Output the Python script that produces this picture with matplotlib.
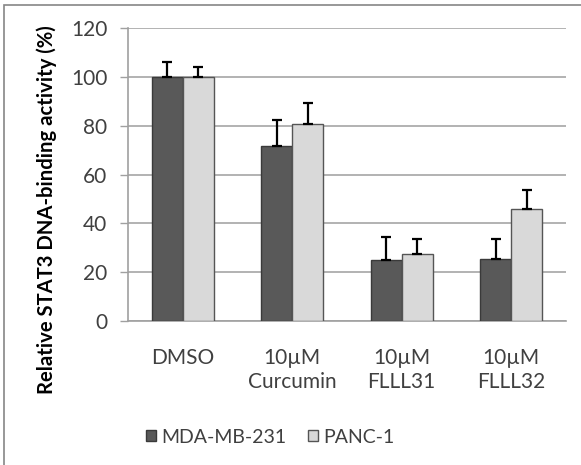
import matplotlib
matplotlib.use("Agg")
import matplotlib.pyplot as plt
import numpy as np
from matplotlib.patches import Rectangle

categories = ["DMSO", "10µM\nCurcumin", "10µM\nFLLL31", "10µM\nFLLL32"]
series_names = ["MDA-MB-231", "PANC-1"]
mda_values = [100, 71.7, 25, 25.4]
mda_errors = [6.2, 10.6, 9.5, 8.2]
panc_values = [100, 80.6, 27.5, 46]
panc_errors = [4.2, 8.9, 6.2, 7.5]
y_ticks = [0, 20, 40, 60, 80, 100, 120]

plt.rcParams['font.family'] = ['Lato', 'DejaVu Sans']

fig = plt.figure(figsize=(5.81, 4.65), dpi=100)
fig.patches.append(Rectangle((4/581, -0.1), 2.0, 1.1 - 5/465, transform=fig.transFigure,
                             fill=False, edgecolor='#868686', linewidth=1.2))
ax = fig.add_axes([0.2208, 0.3103, 0.7529, 0.6288])

x = np.arange(len(categories))
w = 0.283
dark = '#595959'
light = '#d9d9d9'
ax.bar(x - w/2, mda_values, w, color=dark, edgecolor='#3a3a3a', linewidth=1.0, zorder=3, label=series_names[0])
ax.bar(x + w/2, panc_values, w, color=light, edgecolor='#555555', linewidth=1.0, zorder=3, label=series_names[1])
ax.errorbar(x - w/2, mda_values, yerr=[np.zeros(4), mda_errors], fmt='none', ecolor='black',
            elinewidth=1.6, capsize=3.5, capthick=1.6, zorder=4)
ax.errorbar(x + w/2, panc_values, yerr=[np.zeros(4), panc_errors], fmt='none', ecolor='black',
            elinewidth=1.6, capsize=3.5, capthick=1.6, zorder=4)

fs = 15
ax.set_xlim(-0.5, 3.5)
ax.set_ylim(0, 120)
ax.set_yticks(y_ticks)
ax.set_yticklabels([str(t) for t in y_ticks], fontsize=fs, color='#404040')
ax.set_xticks(x)
ax.set_xticklabels(categories, fontsize=fs, color='#404040', linespacing=1.2, va='top')
ax.tick_params(axis='x', length=0, pad=20)
ax.tick_params(axis='y', length=6, width=1, color='#a0a0a0', pad=9)
ax.yaxis.grid(True, color='#a6a6a6', linewidth=1.2, zorder=0)
ax.set_axisbelow(True)
for s in ['top', 'right']:
    ax.spines[s].set_visible(False)
for s in ['left', 'bottom']:
    ax.spines[s].set_color('#a0a0a0')
    ax.spines[s].set_linewidth(1.2)

ax.set_ylabel("Relative STAT3 DNA-binding activity (%)", fontsize=14.6, fontweight='bold')
ax.yaxis.set_label_coords(-0.163, 0.379)

leg = fig.legend(loc='center', bbox_to_anchor=(270/581, 1 - 437/465), ncol=2, frameon=False,
                 fontsize=14, handlelength=0.55, handleheight=0.55, handletextpad=0.25, columnspacing=1.1)
for t in leg.get_texts():
    t.set_color('#404040')

fig.savefig("out.png", dpi=100)
